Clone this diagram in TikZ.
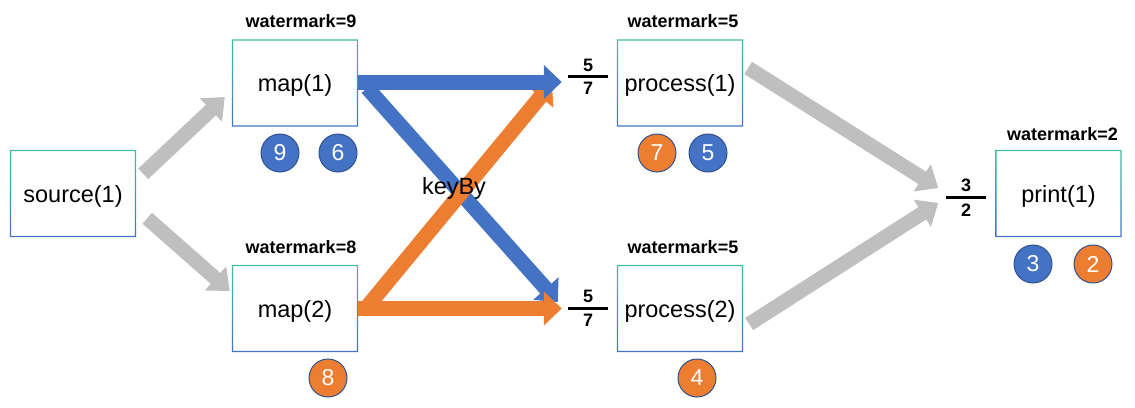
\documentclass[tikz,border=0pt]{standalone}
\usepackage{fontspec}
\setmainfont{Liberation Sans}
\usetikzlibrary{arrows.meta,calc}
\definecolor{bteal}{RGB}{64,190,160}
\definecolor{bblue}{RGB}{68,114,196}
\definecolor{cblue}{RGB}{68,114,196}
\definecolor{corange}{RGB}{237,125,49}
\definecolor{cgray}{RGB}{191,191,191}
\definecolor{cedge}{RGB}{47,82,143}
\tikzset{
  box/.style={minimum width=126pt, minimum height=87pt, inner sep=0pt, text height=17pt, text depth=0pt, font=\fontsize{23.5}{27}\selectfont},
  wm/.style={inner sep=0pt, font=\fontsize{18}{21}\selectfont\bfseries},
  numc/.style={circle, minimum size=38pt, inner sep=0pt, draw=cedge, line width=1pt, text=white, font=\fontsize{23}{27}\selectfont},
  bc/.style={numc, fill=cblue},
  oc/.style={numc, fill=corange},
  fracdig/.style={inner sep=0pt, font=\fontsize{18}{21}\selectfont\bfseries},
  fracbar/.style={line width=2.6pt},
  grayarrow/.style={draw=cgray, line width=14.5pt, -{Triangle[length=19pt,width=31pt]}},
  bluearrow/.style={draw=cblue, line width=15pt, -{Triangle[length=18pt,width=33pt]}},
  orangearrow/.style={draw=corange, line width=15pt, -{Triangle[length=18pt,width=33pt]}},
  lbl/.style={inner sep=0pt, font=\fontsize{23.5}{27}\selectfont}
}
\begin{document}
\begin{tikzpicture}[x=1pt,y=-1pt]
\useasboundingbox (0,0) rectangle (1135,407);
% boxes
\node[box] (source) at (73,193.5) {source(1)};
\node[box] (map1) at (295,83) {map(1)};
\node[box] (map2) at (295,308.5) {map(2)};
\node[box] (process1) at (680,83) {process(1)};
\node[box] (process2) at (680,308.5) {process(2)};
\node[box] (print) at (1058.5,193.5) {print(1)};
\foreach \n in {source,map1,map2,process1,process2,print}{
  \shade[top color=bteal, bottom color=bblue, even odd rule]
    (\n.south west) rectangle (\n.north east)
    ([shift={(1.3pt,1.3pt)}]\n.south west) rectangle ([shift={(-1.3pt,-1.3pt)}]\n.north east);
}
% watermarks
\node[wm] (wm1) at ([shift={(6pt,18pt)}]map1.north) {watermark=9};
\node[wm] (wm2) at ([shift={(6pt,18pt)}]map2.north) {watermark=8};
\node[wm] (wm3) at ([shift={(3pt,18pt)}]process1.north) {watermark=5};
\node[wm] (wm4) at ([shift={(3pt,18pt)}]process2.north) {watermark=5};
\node[wm] (wm5) at ([shift={(4pt,16pt)}]print.north) {watermark=2};
% circles
\node[bc] (c9) at (280,153) {9};
\node[bc] (c6) at (338,153) {6};
\node[oc] (c8) at (328,378) {8};
\node[oc] (c7) at (657,153) {7};
\node[bc] (c5) at (708,153) {5};
\node[oc] (c4) at (697,378) {4};
\node[bc] (c3) at (1033,264) {3};
\node[oc] (c2) at (1093,264) {2};
% gray arrows
\draw[grayarrow] ($(source.north east)+(7,24)$) -- ($(map1.west)+(-7,14)$);
\draw[grayarrow] ($(source.south east)+(11,-19)$) -- ($(map2.west)+(-2,-17.5)$);
\draw[grayarrow] ($(process1.east)+(5,-15)$) -- ($(print.west)+(-57,-5.5)$);
\draw[grayarrow] ($(process2.east)+(6,15.5)$) -- ($(print.west)+(-57,9.5)$);
% keyBy arrows
\draw[bluearrow] ($(map1.east)+(9,5)$) -- ($(process2.west)+(-59,-6.5)$);
\draw[orangearrow] ($(map2.east)+(10,-3)$) -- ($(process1.west)+(-65,0)$);
\draw[orangearrow] ($(map2.east)+(0,0)$) -- ($(process2.west)+(-55,0)$);
\draw[bluearrow] ($(map1.east)+(0,-1)$) -- ($(process1.west)+(-55,-1)$);
\node[lbl] (keyby) at (454,188) {keyBy};
% fractions
\node[fracdig] (f1n) at (588,65) {5};
\node[fracdig] (f1d) at (588,88.5) {7};
\draw[fracbar] ($(f1n.south)!0.5!(f1d.north)+(-20,0)$) -- ++(40,0);
\node[fracdig] (f2n) at (588,296.5) {5};
\node[fracdig] (f2d) at (588,320) {7};
\draw[fracbar] ($(f2n.south)!0.5!(f2d.north)+(-20,0)$) -- ++(40,0);
\node[fracdig] (f3n) at (966,185) {3};
\node[fracdig] (f3d) at (966,210) {2};
\draw[fracbar] ($(f3n.south)!0.5!(f3d.north)+(-20,0)$) -- ++(40,0);
\end{tikzpicture}
\end{document}
